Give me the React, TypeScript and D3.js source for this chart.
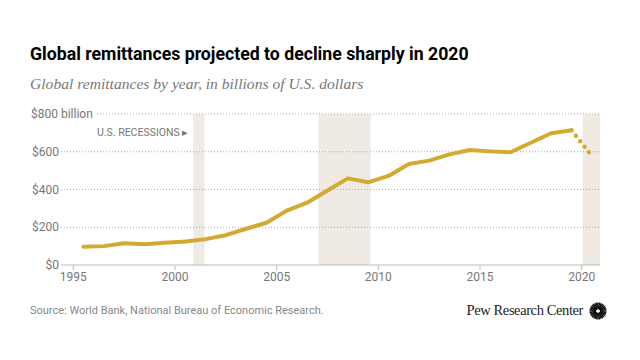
import React, { useEffect, useRef } from 'react'
import * as d3 from 'd3'

const years = [1995, 1996, 1997, 1998, 1999, 2000, 2001, 2002, 2003, 2004, 2005, 2006, 2007,
  2008, 2009, 2010, 2011, 2012, 2013, 2014, 2015, 2016, 2017, 2018, 2019]
const values = [97, 100, 115, 110, 118, 125, 137, 158, 192, 224, 288, 330, 395,
  459, 438, 472, 535, 553, 586, 609, 602, 597, 648, 698, 714]
const projYears = [2019, 2020]
const projValues = [714, 578]
const recessions: [number, number][] = [[2000.9, 2001.45], [2007.05, 2009.62], [2020.05, 2020.9]]
const yTicks = [0, 200, 400, 600, 800]
const xTicks = [1995, 2000, 2005, 2010, 2015, 2020]

const W = 640
const H = 360
const gold = '#d4a930'
const sans = 'Roboto, "Liberation Sans", Arial, sans-serif'

export default function App() {
  const ref = useRef<SVGSVGElement>(null)

  useEffect(() => {
    const svg = d3.select(ref.current)
    svg.selectAll('*').remove()

    const x = d3.scaleLinear().domain([1995, 2020.9]).range([73.3, 600])
    const y = d3.scaleLinear().domain([0, 800]).range([265, 114])

    // titles
    svg.append('text').attr('x', 30).attr('y', 60)
      .attr('font-family', sans).attr('font-weight', 700).attr('font-size', 17.7)
      .attr('fill', '#000').text('Global remittances projected to decline sharply in 2020')
    svg.append('text').attr('x', 30).attr('y', 89)
      .attr('font-family', '"Liberation Serif", "DejaVu Serif", serif').attr('font-style', 'italic')
      .attr('font-size', 15.6).attr('fill', '#777')
      .text('Global remittances by year, in billions of U.S. dollars')

    // recession bands
    svg.append('g').selectAll('rect').data(recessions).join('rect')
      .attr('x', d => x(d[0])).attr('width', d => x(d[1]) - x(d[0]))
      .attr('y', y(800)).attr('height', y(0) - y(800))
      .attr('fill', '#efebe4')

    // gridlines
    svg.append('g').selectAll('line').data(yTicks.filter(d => d > 0)).join('line')
      .attr('x1', d => d === 800 ? 97 : 61).attr('x2', 600)
      .attr('y1', d => y(d)).attr('y2', d => y(d))
      .attr('stroke', '#aaa').attr('stroke-width', 1).attr('stroke-dasharray', '1,2')

    // y labels
    svg.append('g').selectAll('text').data(yTicks).join('text')
      .attr('x', d => d === 800 ? 31 : 59).attr('y', d => y(d) + 4)
      .attr('text-anchor', d => d === 800 ? 'start' : 'end')
      .attr('font-family', sans).attr('font-size', 12).attr('fill', '#777')
      .text(d => d === 800 ? '$800 billion' : `$${d}`)

    // x axis
    svg.append('line').attr('x1', 61).attr('x2', 600).attr('y1', y(0)).attr('y2', y(0))
      .attr('stroke', '#bbb').attr('stroke-width', 1)
    svg.append('g').selectAll('line').data(xTicks).join('line')
      .attr('x1', d => x(d)).attr('x2', d => x(d)).attr('y1', y(0)).attr('y2', y(0) + 5)
      .attr('stroke', '#bbb')
    svg.append('g').selectAll('text').data(xTicks).join('text')
      .attr('x', d => x(d)).attr('y', 281).attr('text-anchor', 'middle')
      .attr('font-family', sans).attr('font-size', 12).attr('fill', '#777')
      .text(d => d)

    // recession label
    svg.append('text').attr('x', 97).attr('y', 136)
      .attr('font-family', sans).attr('font-size', 10.5).attr('fill', '#777')
      .text('U.S. RECESSIONS \u25B8')

    // lines
    const line = d3.line<[number, number]>().x(d => x(d[0] + 0.5)).y(d => y(d[1]))
    svg.append('path').datum(years.map((yr, i) => [yr, values[i]] as [number, number]))
      .attr('d', line).attr('fill', 'none').attr('stroke', gold)
      .attr('stroke-width', 4).attr('stroke-linejoin', 'round').attr('stroke-linecap', 'round')
    svg.append('path').datum(projYears.map((yr, i) => [yr, projValues[i]] as [number, number]))
      .attr('d', line).attr('fill', 'none').attr('stroke', gold)
      .attr('stroke-width', 4.5).attr('stroke-linecap', 'round').attr('stroke-dasharray', '0,7')

    // footer
    svg.append('text').attr('x', 30).attr('y', 314)
      .attr('font-family', sans).attr('font-size', 11).attr('fill', '#888')
      .text('Source: World Bank, National Bureau of Economic Research.')
    svg.append('text').attr('x', 583).attr('y', 315).attr('text-anchor', 'end')
      .attr('font-family', '"Liberation Serif", serif').attr('font-size', 14.5).attr('fill', '#222')
      .attr('letter-spacing', -0.4)
      .text('Pew Research Center')
    const logo = svg.append('g').attr('transform', 'translate(598,311)')
    logo.selectAll('line').data(d3.range(32)).join('line')
      .attr('x1', d => 2 * Math.cos(d / 32 * 2 * Math.PI)).attr('y1', d => 2 * Math.sin(d / 32 * 2 * Math.PI))
      .attr('x2', d => 8.5 * Math.cos(d / 32 * 2 * Math.PI)).attr('y2', d => 8.5 * Math.sin(d / 32 * 2 * Math.PI))
      .attr('stroke', '#111').attr('stroke-width', 1.4)
  }, [])

  return (
    <svg ref={ref} width={W} height={H} style={{ position: 'absolute', left: 0, top: 0, background: '#fff' }} />
  )
}
